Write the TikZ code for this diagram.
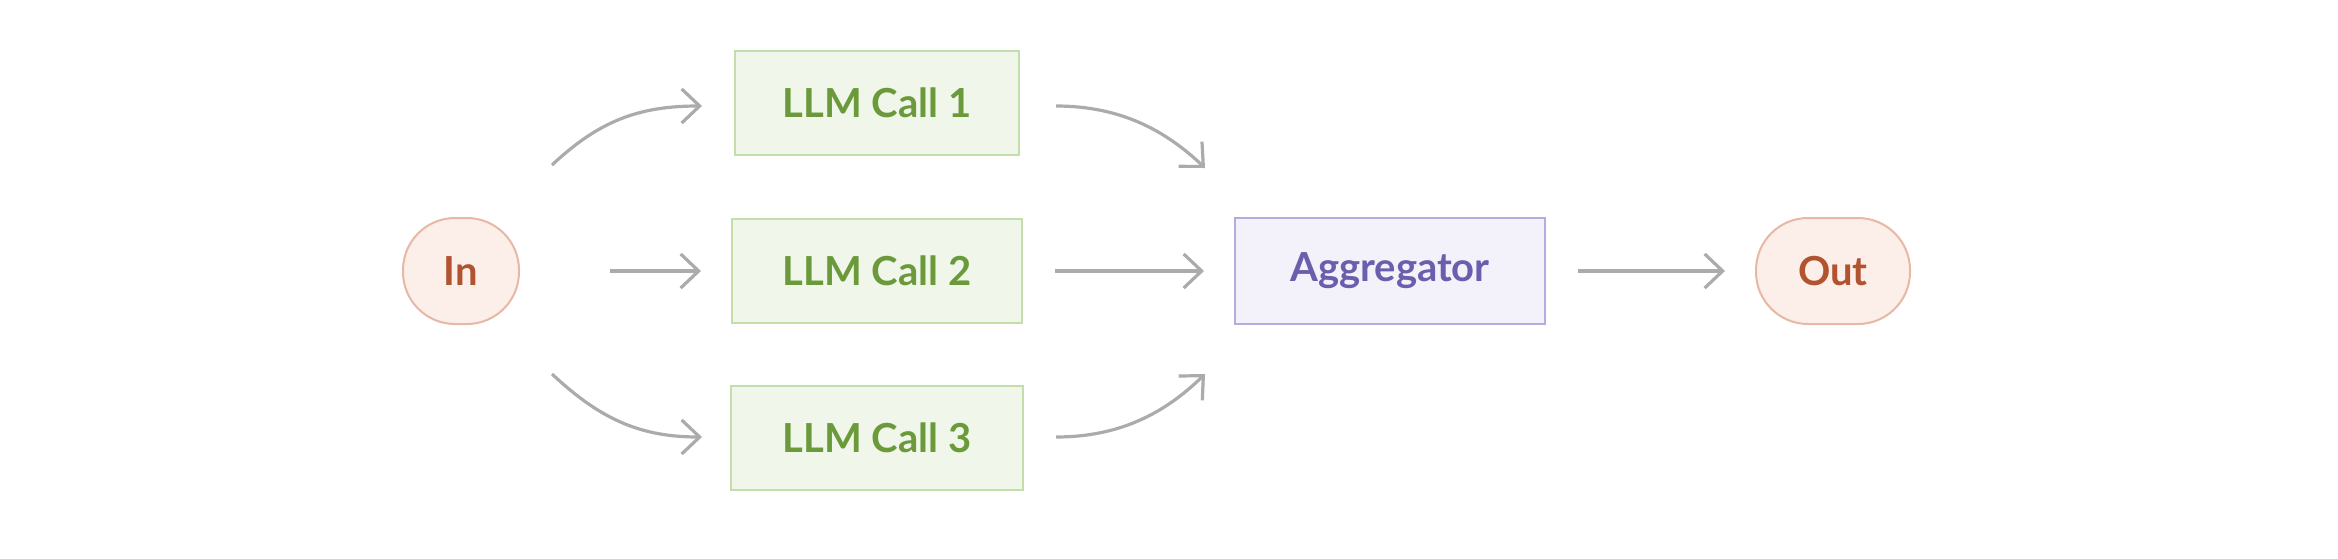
\documentclass[tikz,border=0pt]{standalone}
\usepackage{fontspec}
\setmainfont{Lato}
\usetikzlibrary{arrows.meta}
\definecolor{inF}{HTML}{FCEEE8}\definecolor{inD}{HTML}{E6B8A5}\definecolor{inT}{HTML}{B0532E}
\definecolor{gF}{HTML}{F1F6EA}\definecolor{gD}{HTML}{C3DEAB}\definecolor{gT}{HTML}{6A9A3A}
\definecolor{pF}{HTML}{F3F1FA}\definecolor{pD}{HTML}{B3ACDF}\definecolor{pT}{HTML}{6A5EAD}
\definecolor{ar}{HTML}{ABABAB}
\begin{document}
\begin{tikzpicture}[x=0.5pt,y=-0.5pt,
  lbl/.style={font=\fontsize{20}{24}\selectfont\bfseries,inner sep=0pt},
  term/.style={lbl,draw=inD,fill=inF,text=inT,line width=1pt,rounded corners=26pt,minimum height=53pt},
  llm/.style={lbl,draw=gD,fill=gF,text=gT,line width=1pt,minimum width=144pt,minimum height=52pt},
  agg/.style={lbl,draw=pD,fill=pF,text=pT,line width=1pt,minimum width=155pt,minimum height=53pt},
  arr/.style={draw=ar,line width=1.6pt,-{Straight Barb[length=9pt,width=17pt,line width=1.6pt]}}]
\useasboundingbox (0,0) rectangle (2338,558);
\node[term,minimum width=58pt] (in) at (461,271) {In};
\node[llm,minimum width=142pt] (l1) at (877,103) {LLM Call 1};
\node[llm,minimum width=145pt] (l2) at (877,271) {LLM Call 2};
\node[llm,minimum width=146pt] (l3) at (877,438) {LLM Call 3};
\node[agg] (ag) at (1390,271) {Aggregator};
\node[term,minimum width=77pt] (out) at (1833,271) {Out};
\coordinate (a1s) at (552,165); \coordinate (a1e) at (702,106);
\coordinate (a3s) at (552,374); \coordinate (a3e) at (702,437);
\coordinate (b1s) at (1056,106); \coordinate (b1e) at (1205,168);
\coordinate (b3s) at (1056,437); \coordinate (b3e) at (1205,374);
\draw[arr,shorten <=45pt,shorten >=15pt] (in) -- (l2);
\draw[arr,shorten <=16pt,shorten >=15pt] (l2) -- (ag);
\draw[arr,shorten <=16pt,shorten >=15pt] (ag) -- (out);
\draw[arr] (a1s) .. controls (600,120) and (640,106) .. (a1e);
\draw[arr] (a3s) .. controls (600,419) and (640,437) .. (a3e);
\draw[arr] (b1s) .. controls (1120,106) and (1165,130) .. (b1e);
\draw[arr] (b3s) .. controls (1120,437) and (1165,413) .. (b3e);
\end{tikzpicture}
\end{document}
